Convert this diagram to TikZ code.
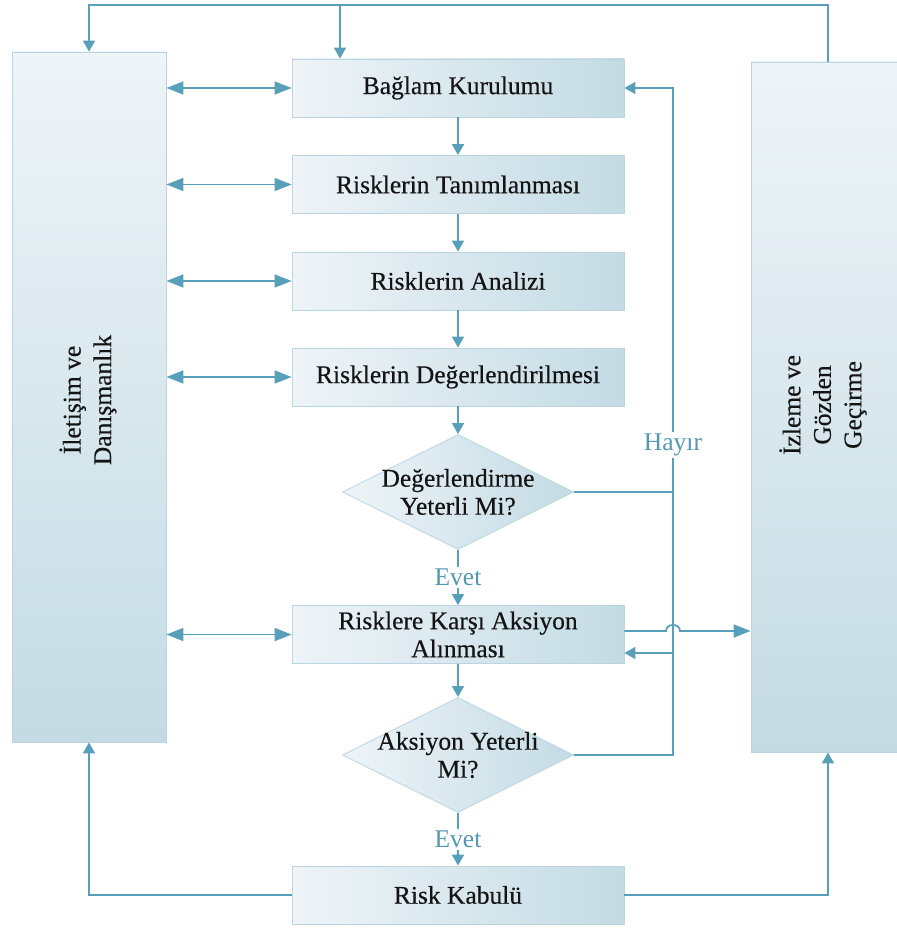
\documentclass[tikz,border=0pt]{standalone}
\usepackage{fontspec}
\setmainfont{Liberation Serif}[BoldFont=Liberation Serif, BoldFeatures={FakeBold=0.35}]
\usetikzlibrary{arrows.meta,shapes.geometric}
\definecolor{flow}{RGB}{88,160,186}
\definecolor{flowtext}{RGB}{84,152,178}
\definecolor{light}{RGB}{238,244,248}
\definecolor{dark}{RGB}{196,219,228}
\definecolor{edge}{RGB}{184,213,224}
\begin{document}
\begin{tikzpicture}[x=1pt,y=-1pt,
  every node/.style={font=\fontsize{25.5}{30}\selectfont\bfseries, text=black!92},
  box/.style={draw=edge, line width=0.8pt, left color=light, right color=dark,
    minimum width=332pt, minimum height=58pt, inner sep=0pt, align=center},
  side/.style={draw=edge, line width=0.8pt, top color=light, bottom color=dark,
    minimum width=154pt, minimum height=690pt, inner sep=0pt},
  dia/.style={diamond, draw=edge, line width=0.8pt, left color=light, right color=dark,
    minimum width=231pt, minimum height=115pt, inner sep=0pt},
  vtext/.style={rotate=90, align=center, font=\fontsize{25.5}{30.5}\selectfont\bfseries},
  dtext/.style={align=center, font=\fontsize{25.5}{28}\selectfont\bfseries},
  link/.style={draw=flow, line width=1.8pt},
  tip/.style={-{Triangle[width=12pt,length=11pt]}},
  both/.style={{Triangle[width=13pt,length=17pt]}-{Triangle[width=13pt,length=17pt]}},
  lab/.style={text=flowtext, fill=white, inner sep=2pt,
    font=\fontsize{25.5}{30}\selectfont\mdseries}]
\useasboundingbox (0,0) rectangle (896,928);

% side panels
\node[side] (lbox) at (89,397) {};
\node[vtext] (ltxt) at (88,400) {İletişim ve\\Danışmanlık};
\node[side] (rbox) at (828,407) {};
\node[vtext] (rtxt) at (823,405) {İzleme ve\\Gözden\\Geçirme};

% main process steps
\node[box] (b1) at (458,88) {Bağlam Kurulumu};
\node[box] (b2) at (458,184.5) {Risklerin Tanımlanması};
\node[box] (b3) at (458,281) {Risklerin Analizi};
\node[box] (b4) at (458,377) {Risklerin Değerlendirilmesi};
\node[dia] (d1) at (458,492) {};
\node[dtext] (d1t) at (458,492) {Değerlendirme\\Yeterli Mi?};
\node[box, font=\fontsize{25.5}{28}\selectfont\bfseries] (b5) at (458,634.5) {Risklere Karşı Aksiyon\\Alınması};
\node[dia] (d2) at (458,755) {};
\node[dtext] (d2t) at (458,755) {Aksiyon Yeterli\\Mi?};
\node[box] (b6) at (458,895) {Risk Kabulü};

% vertical flow
\draw[link,tip] (b1.south) -- (b2.north);
\draw[link,tip] (b2.south) -- (b3.north);
\draw[link,tip] (b3.south) -- (b4.north);
\draw[link,tip] (b4.south) -- (d1.north);
\draw[link,tip] (d1.south) -- node[lab] (e1) {Evet} (b5.north);
\draw[link,tip] (b5.south) -- (d2.north);
\draw[link,tip] (d2.south) -- node[lab] (e2) {Evet} (b6.north);

% communication links
\foreach \n in {b1,b2,b3,b4,b5}
  \draw[link,both] (lbox.east |- \n.west) -- (\n.west);

% "no" feedback loop
\coordinate (fx) at (673,0);
\coordinate (fin) at (673,653);
\coordinate (hopy) at (0,631);
\draw[link] (d1.east) -- (d1.east -| fx);
\draw[link,tip] (d2.east) -- (d2.east -| fx) -- (fx |- b1.east) -- (b1.east);
\draw[link,tip] (fin) -- (fin -| b5.east);
\draw[link,{Triangle[width=13pt,length=17pt]}-] (rbox.west |- hopy) -- (680,631) .. controls (680,623) and (666,623) .. (666,631) -- (b5.east |- hopy);
\node[lab] (hayir) at (673,445) {Hayır};

% monitoring loop across the top
\coordinate (topR) at (828,5);
\coordinate (topB) at (340,5);
\draw[link,tip] (rbox.north) -- (rbox.north |- topR) -- (lbox.north |- topR) -- (lbox.north);
\draw[link,tip] (topB) -- (topB |- b1.north);

% risk acceptance feeds both side panels
\draw[link,tip] (b6.west) -| (lbox.south);
\draw[link,tip] (b6.east) -| (rbox.south);
\end{tikzpicture}
\end{document}
